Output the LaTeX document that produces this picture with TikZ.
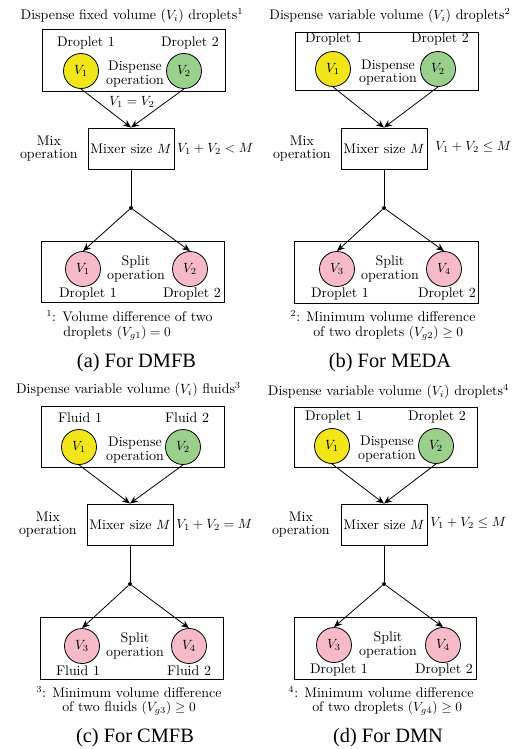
\documentclass[tikz,border=0pt]{standalone}
\usepackage{fontspec}
\newfontfamily\capfont{Liberation Serif}
\usetikzlibrary{arrows.meta}

\definecolor{dropyellow}{RGB}{240,230,25}
\definecolor{dropgreen}{RGB}{155,208,140}
\definecolor{droppink}{RGB}{246,186,200}

\tikzset{
  txt/.style={font=\fontsize{10.45}{12.6}\selectfont, inner sep=0pt, align=center},
  twoline/.style={font=\fontsize{10.45}{10.2}\selectfont, inner sep=0pt, align=center},
  subcap/.style={font=\capfont\fontsize{15.3}{18}\selectfont, inner sep=0pt},
  panelbox/.style={draw, line width=0.7pt, rectangle, inner sep=0pt},
  mixbox/.style={draw, line width=0.7pt, rectangle, inner sep=1pt,
    minimum width=64.5pt, minimum height=31.1pt,
    font=\fontsize{10.45}{12.6}\selectfont},
  drop/.style={draw, line width=0.6pt, circle, inner sep=0pt, minimum size=26.25pt,
    font=\fontsize{10.45}{12.6}\selectfont},
  joint/.style={circle, fill, inner sep=0pt, minimum size=3pt},
  flow/.style={line width=0.6pt, -{Stealth[length=6pt, width=5pt]}},
  wire/.style={line width=0.6pt}
}

\begin{document}
\begin{tikzpicture}[x=0.75pt, y=-0.75pt]
\useasboundingbox (0,0) rectangle (520,749);

% ---------- (a) DMFB ----------
\begin{scope}
  \node[txt] (a-title) at (132,16) {Dispense fixed volume ($V_i$) droplets$^1$};
  \node[panelbox, minimum width=137.25pt, minimum height=46.5pt] (a-top) at (133.5,60) {};
  \node[txt] (a-l1) at (86,43) {Droplet 1};
  \node[txt] (a-l2) at (190,43) {Droplet 2};
  \node[drop, fill=dropyellow] (a-v1) at (81,71) {$V_1$};
  \node[drop, fill=dropgreen] (a-v2) at (184,71) {$V_2$};
  \node[twoline] (a-disp) at (135,74) {Dispense\\operation};
  \node[mixbox] (a-mix) at (131,148.75) {Mixer size $M$};
  \draw[flow] (a-v1.south) -- (a-mix.north);
  \draw[flow] (a-v2.south) -- (a-mix.north);
  \node[txt] (a-eq) at (132,102) {$V_1=V_2$};
  \node[twoline, anchor=east] (a-mixop) at (78,148.5) {Mix\\operation};
  \node[txt, anchor=west] (a-cond) at (177,148.5) {$V_1+V_2<M$};
  \node[joint] (a-j) at (131,208) {};
  \draw[wire] (a-mix.south) -- (a-j);
  \node[panelbox, minimum width=136.9pt, minimum height=46.1pt] (a-bot) at (133,271.75) {};
  \node[drop, fill=droppink] (a-v3) at (83,269) {$V_1$};
  \node[drop, fill=droppink] (a-v4) at (190,269) {$V_2$};
  \draw[flow] (a-j) -- (a-v3.north);
  \draw[flow] (a-j) -- (a-v4.north);
  \node[twoline] (a-split) at (136,269) {Split\\operation};
  \node[txt] (a-b1) at (88,294) {Droplet 1};
  \node[txt] (a-b2) at (192,294) {Droplet 2};
  \node[txt, anchor=west] (a-n1) at (46,316) {$^1$: Volume difference of two};
  \node[txt, anchor=west] (a-n2) at (63,333) {droplets $(V_{g1})=0$};
  \node[subcap] (a-cap) at (136.5,363) {(a) For DMFB};
\end{scope}

% ---------- (b) MEDA ----------
\begin{scope}[shift={(253,0)}]
  \node[txt] (b-title) at (137,16) {Dispense variable volume ($V_i$) droplets$^2$};
  \node[panelbox, minimum width=137.25pt, minimum height=43.5pt] (b-top) at (133.5,61.5) {};
  \node[txt] (b-l1) at (81,39.5) {Droplet 1};
  \node[txt] (b-l2) at (187,39.5) {Droplet 2};
  \node[drop, fill=dropyellow] (b-v1) at (80,69) {$V_1$};
  \node[drop, fill=dropgreen] (b-v2) at (185,69) {$V_2$};
  \node[twoline] (b-disp) at (135,72.5) {Dispense\\operation};
  \node[mixbox] (b-mix) at (131,148.75) {Mixer size $M$};
  \draw[flow] (b-v1.south) -- (b-mix.north);
  \draw[flow] (b-v2.south) -- (b-mix.north);
  \node[twoline, anchor=east] (b-mixop) at (78,148.5) {Mix\\operation};
  \node[txt, anchor=west] (b-cond) at (182,147) {$V_1+V_2\leq M$};
  \node[joint] (b-j) at (131,208) {};
  \draw[wire] (b-mix.south) -- (b-j);
  \node[panelbox, minimum width=138pt, minimum height=46.5pt] (b-bot) at (133,272) {};
  \node[drop, fill=droppink] (b-v3) at (84,269) {$V_3$};
  \node[drop, fill=droppink] (b-v4) at (191,269) {$V_4$};
  \draw[flow] (b-j) -- (b-v3.north);
  \draw[flow] (b-j) -- (b-v4.north);
  \node[twoline] (b-split) at (137,269) {Split\\operation};
  \node[txt] (b-b1) at (87,294) {Droplet 1};
  \node[txt] (b-b2) at (194,294) {Droplet 2};
  \node[txt, anchor=west] (b-n1) at (37,316) {$^2$: Minimum volume difference};
  \node[txt, anchor=west] (b-n2) at (60,333) {of two droplets $(V_{g2})\geq 0$};
  \node[subcap] (b-cap) at (137,363) {(b) For MEDA};
\end{scope}

% ---------- (c) CMFB ----------
\begin{scope}[shift={(-1,376)}]
  \node[txt] (c-title) at (129.5,14) {Dispense variable volume ($V_i$) fluids$^3$};
  \node[panelbox, minimum width=137.25pt, minimum height=45.75pt] (c-top) at (133.5,60.5) {};
  \node[txt] (c-l1) at (81,42) {Fluid 1};
  \node[txt] (c-l2) at (188,42) {Fluid 2};
  \node[drop, fill=dropyellow] (c-v1) at (80,71) {$V_1$};
  \node[drop, fill=dropgreen] (c-v2) at (184,71) {$V_2$};
  \node[twoline] (c-disp) at (136,74) {Dispense\\operation};
  \node[mixbox] (c-mix) at (131,148.75) {Mixer size $M$};
  \draw[flow] (c-v1.south) -- (c-mix.north);
  \draw[flow] (c-v2.south) -- (c-mix.north);
  \node[twoline, anchor=east] (c-mixop) at (78,148.5) {Mix\\operation};
  \node[txt, anchor=west] (c-cond) at (177,148.5) {$V_1+V_2=M$};
  \node[joint] (c-j) at (131,208) {};
  \draw[wire] (c-mix.south) -- (c-j);
  \node[panelbox, minimum width=136.9pt, minimum height=46.5pt] (c-bot) at (133,272) {};
  \node[drop, fill=droppink] (c-v3) at (83,270) {$V_3$};
  \node[drop, fill=droppink] (c-v4) at (190,270) {$V_4$};
  \draw[flow] (c-j) -- (c-v3.north);
  \draw[flow] (c-j) -- (c-v4.north);
  \node[twoline] (c-split) at (136,270) {Split\\operation};
  \node[txt] (c-b1) at (79,295) {Fluid 1};
  \node[txt] (c-b2) at (190,295) {Fluid 2};
  \node[txt, anchor=west] (c-n1) at (37,316) {$^3$: Minimum volume difference};
  \node[txt, anchor=west] (c-n2) at (63,332.5) {of two fluids $(V_{g3})\geq 0$};
  \node[subcap] (c-cap) at (136,362) {(c) For CMFB};
\end{scope}

% ---------- (d) DMN ----------
\begin{scope}[shift={(253,376)}]
  \node[txt] (d-title) at (135.5,16) {Dispense variable volume ($V_i$) droplets$^4$};
  \node[panelbox, minimum width=137pt, minimum height=45pt] (d-top) at (133,61) {};
  \node[txt] (d-l1) at (81,41) {Droplet 1};
  \node[txt] (d-l2) at (184,41) {Droplet 2};
  \node[drop, fill=dropyellow] (d-v1) at (79,70) {$V_1$};
  \node[drop, fill=dropgreen] (d-v2) at (183,70) {$V_2$};
  \node[twoline] (d-disp) at (134,73) {Dispense\\operation};
  \node[mixbox] (d-mix) at (131,148.75) {Mixer size $M$};
  \draw[flow] (d-v1.south) -- (d-mix.north);
  \draw[flow] (d-v2.south) -- (d-mix.north);
  \node[twoline, anchor=east] (d-mixop) at (77,148.5) {Mix\\operation};
  \node[txt, anchor=west] (d-cond) at (177,147) {$V_1+V_2\leq M$};
  \node[joint] (d-j) at (131,208) {};
  \draw[wire] (d-mix.south) -- (d-j);
  \node[panelbox, minimum width=136.5pt, minimum height=46.5pt] (d-bot) at (132,272) {};
  \node[drop, fill=droppink] (d-v3) at (81,269) {$V_3$};
  \node[drop, fill=droppink] (d-v4) at (190,269) {$V_4$};
  \draw[flow] (d-j) -- (d-v3.north);
  \draw[flow] (d-j) -- (d-v4.north);
  \node[twoline] (d-split) at (135,269) {Split\\operation};
  \node[txt] (d-b1) at (86,294) {Droplet 1};
  \node[txt] (d-b2) at (191,294) {Droplet 2};
  \node[txt, anchor=west] (d-n1) at (35,316) {$^4$: Minimum volume difference};
  \node[txt, anchor=west] (d-n2) at (59,332.5) {of two droplets $(V_{g4})\geq 0$};
  \node[subcap] (d-cap) at (135,362) {(d) For DMN};
\end{scope}
\end{tikzpicture}
\end{document}
